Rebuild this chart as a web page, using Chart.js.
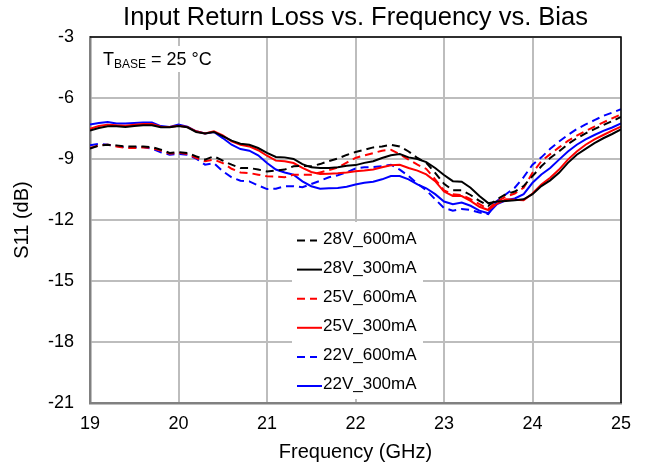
<!DOCTYPE html>
<html>
<head>
<meta charset="utf-8">
<title>Input Return Loss vs. Frequency vs. Bias</title>
<script src="https://cdn.jsdelivr.net/npm/chart.js@4/dist/chart.umd.min.js"></script>
<style>
  html, body { margin: 0; padding: 0; background: #fff; }
  #wrap { width: 645px; height: 465px; }
</style>
</head>
<body>
<div id="wrap"><canvas id="s11Chart" width="645" height="465"></canvas></div>
<script>
// frequency points (GHz)
const freq = [
  19.0, 19.1, 19.2, 19.3, 19.4, 19.5, 19.6, 19.7, 19.8, 19.9,
  20.0, 20.1, 20.2, 20.3, 20.4, 20.5, 20.6, 20.7, 20.8, 20.9,
  21.0, 21.1, 21.2, 21.3, 21.4, 21.5, 21.6, 21.7, 21.8, 21.9,
  22.0, 22.1, 22.2, 22.3, 22.4, 22.5, 22.6, 22.7, 22.8, 22.9,
  23.0, 23.1, 23.2, 23.3, 23.4, 23.5, 23.6, 23.7, 23.8, 23.9,
  24.0, 24.1, 24.2, 24.3, 24.4, 24.5, 24.6, 24.7, 24.8, 24.9, 25.0
];

// S11 (dB) per bias condition
const s11_28V_600mA = [
  -8.49, -8.34, -8.30, -8.33, -8.38, -8.38, -8.39, -8.41, -8.54, -8.70,
  -8.66, -8.70, -8.87, -9.03, -8.87, -9.08, -9.28, -9.44, -9.44, -9.52,
  -9.61, -9.57, -9.52, -9.36, -9.34, -9.36, -9.25, -9.10, -8.98, -8.80,
  -8.66, -8.55, -8.43, -8.38, -8.30, -8.38, -8.63, -8.95, -9.19, -9.68,
  -10.22, -10.54, -10.54, -10.77, -11.06, -11.30, -10.98, -10.73, -10.60, -10.33,
  -9.84, -9.36, -8.95, -8.63, -8.27, -7.98, -7.74, -7.53, -7.33, -7.14, -6.93
];
const s11_28V_300mA = [
  -7.60, -7.48, -7.39, -7.39, -7.43, -7.38, -7.34, -7.34, -7.44, -7.44,
  -7.38, -7.44, -7.67, -7.74, -7.67, -7.87, -8.10, -8.25, -8.30, -8.46,
  -8.70, -8.90, -8.92, -9.00, -9.25, -9.41, -9.44, -9.44, -9.41, -9.33,
  -9.30, -9.19, -9.11, -8.95, -8.82, -8.76, -8.92, -9.00, -9.15, -9.44,
  -9.79, -10.09, -10.12, -10.41, -10.82, -11.17, -11.09, -11.06, -11.03, -10.98,
  -10.73, -10.33, -10.05, -9.68, -9.19, -8.79, -8.50, -8.22, -7.98, -7.77, -7.54
];
const s11_25V_600mA = [
  -8.46, -8.33, -8.30, -8.38, -8.46, -8.46, -8.43, -8.46, -8.59, -8.74,
  -8.69, -8.75, -8.95, -9.11, -9.03, -9.20, -9.48, -9.66, -9.69, -9.77,
  -9.85, -9.87, -9.90, -9.77, -9.77, -9.77, -9.66, -9.55, -9.42, -9.18,
  -8.95, -8.82, -8.71, -8.59, -8.55, -8.76, -9.03, -9.28, -9.49, -10.00,
  -10.54, -10.73, -10.77, -10.98, -11.22, -11.46, -11.09, -10.85, -10.70, -10.41,
  -9.68, -9.11, -8.76, -8.43, -8.11, -7.85, -7.62, -7.41, -7.20, -7.00, -6.81
];
const s11_25V_300mA = [
  -7.51, -7.38, -7.31, -7.34, -7.36, -7.31, -7.28, -7.28, -7.41, -7.43,
  -7.36, -7.43, -7.64, -7.74, -7.64, -7.84, -8.13, -8.30, -8.38, -8.57,
  -8.84, -9.08, -9.11, -9.20, -9.44, -9.64, -9.74, -9.72, -9.70, -9.66,
  -9.60, -9.57, -9.52, -9.41, -9.31, -9.28, -9.44, -9.57, -9.76, -10.09,
  -10.60, -10.82, -10.82, -11.06, -11.35, -11.51, -11.19, -10.98, -11.01, -11.03,
  -10.70, -10.25, -9.92, -9.52, -9.03, -8.63, -8.30, -8.03, -7.82, -7.60, -7.41
];
const s11_22V_600mA = [
  -8.33, -8.26, -8.30, -8.36, -8.43, -8.43, -8.41, -8.49, -8.67, -8.79,
  -8.75, -8.79, -8.98, -9.28, -9.21, -9.60, -9.90, -10.07, -10.10, -10.30,
  -10.48, -10.46, -10.34, -10.34, -10.39, -10.23, -10.07, -9.90, -9.80, -9.66,
  -9.47, -9.41, -9.39, -9.36, -9.28, -9.52, -9.84, -10.22, -10.54, -10.98,
  -11.41, -11.54, -11.46, -11.51, -11.63, -11.71, -11.06, -10.73, -10.41, -9.89,
  -9.28, -8.92, -8.50, -8.14, -7.82, -7.53, -7.30, -7.09, -6.88, -6.72, -6.55
];
const s11_22V_300mA = [
  -7.31, -7.23, -7.18, -7.25, -7.26, -7.23, -7.20, -7.21, -7.38, -7.43,
  -7.31, -7.41, -7.64, -7.74, -7.67, -7.97, -8.30, -8.51, -8.59, -8.82,
  -9.20, -9.52, -9.66, -9.77, -10.10, -10.34, -10.46, -10.44, -10.43, -10.36,
  -10.25, -10.17, -10.12, -10.00, -9.84, -9.84, -10.00, -10.25, -10.44, -10.73,
  -11.09, -11.22, -11.14, -11.30, -11.54, -11.67, -11.22, -11.03, -10.94, -10.73,
  -10.17, -9.76, -9.44, -9.03, -8.63, -8.30, -8.03, -7.82, -7.62, -7.45, -7.25
];

const seriesNames = ["28V_600mA", "28V_300mA", "25V_600mA", "25V_300mA", "22V_600mA", "22V_300mA"];
const seriesValues = [s11_28V_600mA, s11_28V_300mA, s11_25V_600mA, s11_25V_300mA, s11_22V_600mA, s11_22V_300mA];
const seriesColors = ["#000000", "#000000", "#ff0000", "#ff0000", "#0000ff", "#0000ff"];
const seriesDashed = [true, false, true, false, true, false];

const xTicks = [19, 20, 21, 22, 23, 24, 25];
const yTicks = [-3, -6, -9, -12, -15, -18, -21];

const FONT = "'Liberation Sans', Arial, sans-serif";
const DASH = [8, 5];

// title, frame, in-plot legend and the T_BASE note
const decorPlugin = {
  id: "decor",
  afterDatasetsDraw(chart) {
    const { ctx, chartArea: a } = chart;
    ctx.save();

    // frame: top/right black, left/bottom come from axis borders
    ctx.strokeStyle = "#000";
    ctx.lineWidth = 1.5;
    ctx.beginPath();
    ctx.moveTo(a.left, a.top);
    ctx.lineTo(a.right, a.top);
    ctx.lineTo(a.right, a.bottom);
    ctx.stroke();

    // legend box
    const lx = 297, ly = 239, step = 29.1;
    ctx.fillStyle = "#fff";
    ctx.fillRect(292, 222, 131, 177);
    ctx.font = "17px " + FONT;
    ctx.textBaseline = "middle";
    chart.data.datasets.forEach((ds, i) => {
      const y = ly + i * step;
      ctx.strokeStyle = ds.borderColor;
      ctx.lineWidth = 2;
      ctx.setLineDash(ds.borderDash || []);
      ctx.beginPath();
      ctx.moveTo(lx, y + 1.5);
      ctx.lineTo(ds.borderDash && ds.borderDash.length ? lx + 20 : lx + 25, y + 1.5);
      ctx.stroke();
      ctx.setLineDash([]);
      ctx.fillStyle = "#000";
      ctx.textAlign = "left";
      ctx.fillText(ds.label, lx + 26, y);
    });

    // T_BASE = 25 °C
    ctx.fillStyle = "#fff";
    ctx.fillRect(98, 46, 110, 26);
    ctx.fillStyle = "#000";
    ctx.textBaseline = "alphabetic";
    let tx = 103;
    ctx.font = "18px " + FONT;
    ctx.fillText("T", tx, 65);
    tx += ctx.measureText("T").width;
    ctx.font = "12px " + FONT;
    ctx.fillText("BASE", tx, 68);
    tx += ctx.measureText("BASE").width;
    ctx.font = "18px " + FONT;
    ctx.fillText(" = 25 \u00B0C", tx, 65);

    // chart title centred over the plot
    ctx.font = "25.5px " + FONT;
    ctx.textAlign = "center";
    ctx.textBaseline = "middle";
    ctx.fillText("Input Return Loss vs. Frequency vs. Bias", (a.left + a.right) / 2, 18);

    ctx.restore();
  }
};

const datasets = seriesNames.map((name, i) => ({
  label: name,
  data: freq.map((f, k) => ({ x: f, y: seriesValues[i][k] })),
  borderColor: seriesColors[i],
  borderDash: seriesDashed[i] ? DASH : [],
  borderWidth: 2,
  pointRadius: 0,
  tension: 0,
  fill: false
}));

new Chart(document.getElementById("s11Chart").getContext("2d"), {
  type: "line",
  data: { datasets },
  plugins: [decorPlugin],
  options: {
    responsive: false,
    animation: false,
    layout: { padding: { top: 37, right: 24, left: 0, bottom: 0 } },
    plugins: {
      legend: { display: false },
      title: { display: false },
      tooltip: { enabled: false }
    },
    scales: {
      x: {
        type: "linear",
        min: 19,
        max: 25,
        afterBuildTicks: s => { s.ticks = xTicks.map(v => ({ value: v })); },
        afterFit: s => { s.height = 62; },
        ticks: { color: "#000", font: { family: FONT, size: 18 }, padding: 10, maxRotation: 0 },
        grid: { color: "#bdbdbd", lineWidth: 2, drawTicks: false },
        border: { color: "#808080", width: 2.5 },
        title: { display: true, text: "Frequency (GHz)", color: "#000", font: { family: FONT, size: 20 }, padding: { top: 0, bottom: 1 } }
      },
      y: {
        min: -21,
        max: -3,
        afterBuildTicks: s => { s.ticks = yTicks.map(v => ({ value: v })); },
        afterFit: s => { s.width = 90; },
        ticks: { color: "#000", font: { family: FONT, size: 18 }, padding: 16 },
        grid: { color: "#bdbdbd", lineWidth: 2, drawTicks: false },
        border: { color: "#808080", width: 2.5 },
        title: { display: true, text: "S11 (dB)", color: "#000", font: { family: FONT, size: 20 }, padding: { top: 10, bottom: 0 } }
      }
    }
  }
});
</script>
</body>
</html>
